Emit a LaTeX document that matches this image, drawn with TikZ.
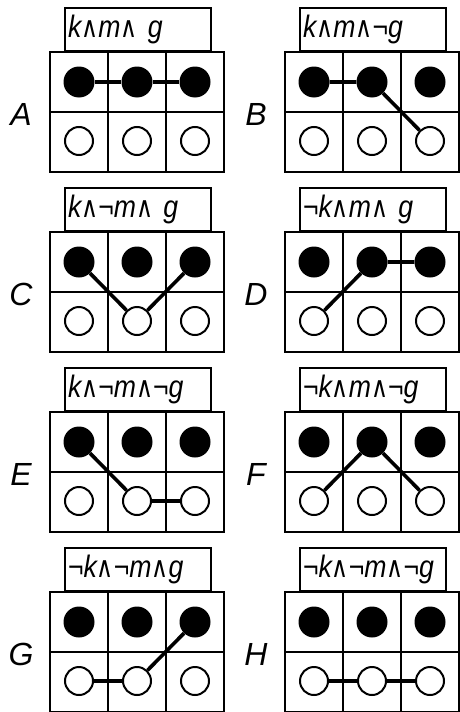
\documentclass[tikz,border=0pt]{standalone}
\usepackage{fontspec}
\setmainfont{Liberation Sans}
\newfontfamily\tagfont[FakeStretch=0.86]{Liberation Sans}
\newfontfamily\symfont[FakeStretch=0.8]{DejaVu Sans}
\newcommand{\wdg}{{\symfont\upshape\fontsize{29}{32}\selectfont ∧}}
\usetikzlibrary{positioning}

\begin{document}
\begin{tikzpicture}[x=1pt, y=-1pt,
    every node/.style={inner sep=0pt},
    full/.style={circle, fill, minimum size=31pt},
    hollow/.style={circle, draw, line width=2pt, fill=white, minimum size=28pt},
    tag/.style={draw, line width=2pt, fill=white, anchor=south west, minimum width=146pt, minimum height=43pt,
        text width=140pt, align=left, font=\tagfont\fontsize{31}{34}\selectfont\itshape},
    boxline/.style={line width=2pt},
    link/.style={line width=3.6pt},
    panel/.style={font=\fontsize{32}{36}\selectfont\itshape}]
    \useasboundingbox (0,0) rectangle (459,712);
    \foreach \p/\x/\y/\k/\m/\g/\txt in {
        A/50/52/t/t/t/{k\wdg m\wdg\ g}, B/285/52/t/t/b/{k\wdg m\wdg ¬g},
        C/50/232/t/b/t/{k\wdg ¬m\wdg\ g}, D/285/232/b/t/t/{¬k\wdg m\wdg\ g},
        E/50/412/t/b/b/{k\wdg ¬m\wdg ¬g}, F/285/412/b/t/b/{¬k\wdg m\wdg ¬g},
        G/50/592/b/b/t/{¬k\wdg ¬m\wdg g}, H/285/592/b/b/b/{¬k\wdg ¬m\wdg ¬g}} {
        \node[tag] (\p-tag) at (\x+14,\y) {\txt};
        \draw[boxline] (\x,\y) rectangle (\x+174,\y+120);
        \draw[boxline] (\x,\y+60) -- (\x+174,\y+60)
            (\x+58,\y) -- (\x+58,\y+120) (\x+116,\y) -- (\x+116,\y+120);
        \foreach \c in {1,2,3} {
            \node[full] (\p\c-t) at (\x+58*\c-29,\y+30) {};
            \node[hollow] (\p\c-b) at (\x+58*\c-29,\y+89) {};
        }
        \draw[link] (\p1-\k) -- (\p2-\m) -- (\p3-\g);
        \node[panel] (\p-name) at (\x-29,\y+62) {\p};
    }
\end{tikzpicture}
\end{document}
